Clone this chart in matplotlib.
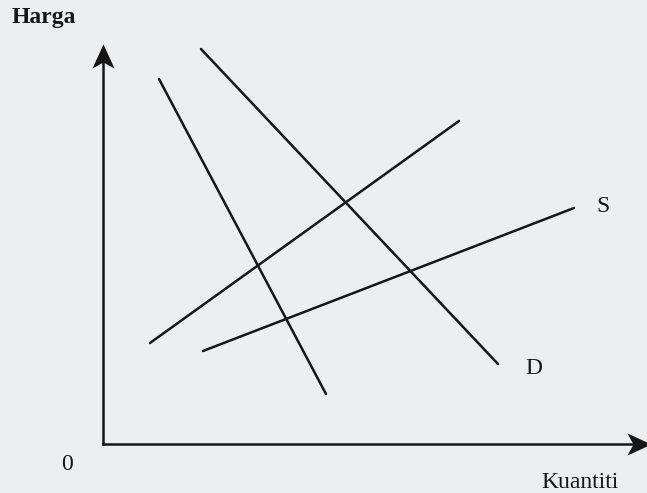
import matplotlib
matplotlib.use('Agg')
import matplotlib.pyplot as plt
from matplotlib.path import Path

## data (quantity, price), origin of the diagram at (0, 0)
d_steep_q = [11.2, 44.6]
d_steep_p = [73.0, 10.0]
d_flat_q = [19.6, 79.0]
d_flat_p = [79.0, 16.0]
s_steep_q = [9.4, 71.2]
s_steep_p = [20.2, 64.6]
s_flat_q = [20.0, 94.2]
s_flat_p = [18.6, 47.2]

y_axis_top = 80.0
x_axis_end = 109.6

ink = '#161616'
bg = '#eceef0'

plt.rcParams['font.family'] = ['Liberation Serif', 'DejaVu Serif']

# stealth type arrow heads, tip sits on the data point
head_up = Path([(0, 0), (-0.46, -1), (0, -0.75), (0.46, -1), (0, 0)],
               [Path.MOVETO, Path.LINETO, Path.LINETO, Path.LINETO, Path.CLOSEPOLY])
head_right = Path([(0, 0), (-1, 0.46), (-0.75, 0), (-1, -0.46), (0, 0)],
                  [Path.MOVETO, Path.LINETO, Path.LINETO, Path.LINETO, Path.CLOSEPOLY])

fig = plt.figure(figsize=(6.47, 4.93), dpi=100)
fig.patch.set_facecolor(bg)
ax = fig.add_axes([0, 0, 1, 1])
ax.set_facecolor(bg)
ax.set_xlim(-20.6, 108.8)
ax.set_ylim(-9.8, 88.8)
ax.axis('off')

# axes
ax.plot([0, 0], [0, y_axis_top - 3], color=ink, lw=1.8, solid_capstyle='projecting')
ax.plot([0, x_axis_end - 3], [0, 0], color=ink, lw=1.8, solid_capstyle='projecting',
        clip_on=False)
ax.plot(0, y_axis_top, marker=head_up, ms=34.6, color=ink, mew=0, clip_on=False)
ax.plot(x_axis_end, 0, marker=head_right, ms=34.6, color=ink, mew=0, clip_on=False)

# demand and supply lines
for q, p in [(d_steep_q, d_steep_p), (d_flat_q, d_flat_p),
             (s_steep_q, s_steep_p), (s_flat_q, s_flat_p)]:
    ax.plot(q, p, color=ink, lw=1.8, solid_capstyle='round')

ax.text(-11.8, 85.2, 'Harga', fontsize=17, fontweight='bold', color=ink,
        ha='center', va='center')
ax.text(-7.2, -4.0, '0', fontsize=17, color=ink, ha='center', va='center')
ax.text(95.4, -7.6, 'Kuantiti', fontsize=17, color=ink, ha='center', va='center')
ax.text(100.0, 47.4, 'S', fontsize=17, color=ink, ha='center', va='center')
ax.text(86.2, 15.0, 'D', fontsize=17, color=ink, ha='center', va='center')

fig.savefig('out.png', dpi=100, facecolor=bg)
